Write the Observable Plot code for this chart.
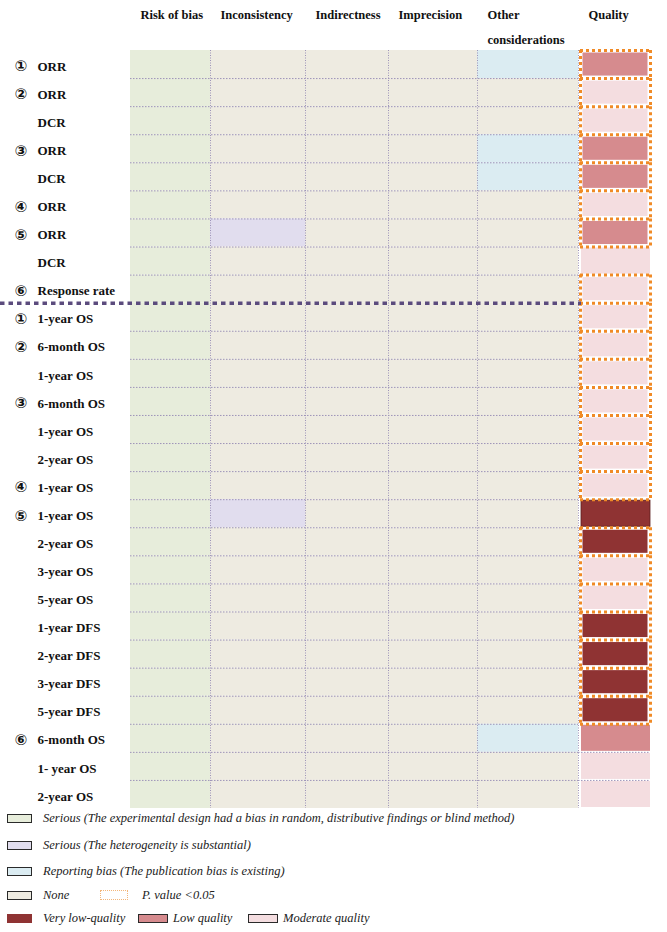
<!DOCTYPE html>
<html><head><meta charset="utf-8">
<script src="https://cdn.jsdelivr.net/npm/d3@7"></script>
<script src="https://cdn.jsdelivr.net/npm/@observablehq/plot@0.6"></script>
<style>
body{margin:0;background:#fff;width:667px;height:932px;position:relative;overflow:hidden}
#chart{position:absolute;left:0;top:0}
#legend{position:absolute;left:0;top:0;width:667px;height:932px;pointer-events:none;font-family:"Liberation Serif","Times New Roman","DejaVu Serif",serif;font-style:italic;font-size:12.5px;color:#222}
.item{position:absolute;height:16px;line-height:16px;white-space:nowrap}
.sw{position:absolute;height:9px;box-sizing:border-box;border:1.3px solid #2a2a2a}
</style></head><body><div id="chart"></div><div id="legend"></div>
<script>
// ---------------- data ----------------
const studies  = ["①","②","","③","","④","⑤","","⑥","①","②","","③","","","④","⑤","","","","","","","","⑥","",""];
const outcomes = ["ORR","ORR","DCR","ORR","DCR","ORR","ORR","DCR","Response rate",
  "1-year OS","6-month OS","1-year OS","6-month OS","1-year OS","2-year OS","1-year OS",
  "1-year OS","2-year OS","3-year OS","5-year OS","1-year DFS","2-year DFS","3-year DFS","5-year DFS",
  "6-month OS","1- year OS","2-year OS"];
const columns = ["Risk of bias","Inconsistency","Indirectness","Imprecision","Other\nconsiderations","Quality"];
// SD = serious (design), SH = serious (heterogeneity), RB = reporting bias, N = none
const riskOfBias    = ["SD","SD","SD","SD","SD","SD","SD","SD","SD","SD","SD","SD","SD","SD","SD","SD","SD","SD","SD","SD","SD","SD","SD","SD","SD","SD","SD"];
const inconsistency = ["N","N","N","N","N","N","SH","N","N","N","N","N","N","N","N","N","SH","N","N","N","N","N","N","N","N","N","N"];
const indirectness  = ["N","N","N","N","N","N","N","N","N","N","N","N","N","N","N","N","N","N","N","N","N","N","N","N","N","N","N"];
const imprecision   = ["N","N","N","N","N","N","N","N","N","N","N","N","N","N","N","N","N","N","N","N","N","N","N","N","N","N","N"];
const otherConsiderations = ["RB","N","N","RB","RB","N","N","N","N","N","N","N","N","N","N","N","N","N","N","N","N","N","N","N","RB","N","N"];
// VL = very low, L = low, M = moderate
const quality = ["L","M","M","L","L","M","L","M","M","M","M","M","M","M","M","M","VL","VL","M","M","VL","VL","VL","VL","L","M","M"];
const pBelow005 = [1,1,1,1,1,1,1,0,1,1,1,1,1,1,1,1,0,1,1,1,1,1,1,1,0,0,0];

const legendCodes  = ["SD","SH","RB","N","VL","L","M"];
const legendLabels = ["Serious (The experimental design had a bias in random, distributive findings or blind method)",
  "Serious (The heterogeneity is substantial)","Reporting bias (The publication bias is existing)","None",
  "Very low-quality","Low quality","Moderate quality"];
const pLabel = "P. value <0.05";

// ---------------- styling / layout ----------------
const palette = {SD:"#e7eddb", SH:"#e1ddee", RB:"#dbecf2", N:"#eeebe1", VL:"#8f3333", L:"#d68b8e", M:"#f4dde0"};
const colWidths = [80, 95, 83, 89, 101, 72];
const edges = [0]; colWidths.forEach(w => edges.push(edges[edges.length-1] + w));
const nRows = outcomes.length;
const qx1 = edges[5], qx2 = edges[6];
const orange = "#f08a26", gridColor = "#9d93b8";
const serif = "'Liberation Serif', 'Times New Roman', 'DejaVu Serif', serif";

const criteria = [riskOfBias, inconsistency, indirectness, imprecision, otherConsiderations];
const cells = [];
criteria.forEach((arr, c) => arr.forEach((code, r) => cells.push({r, c, code})));
const qRows = quality.map((code, r) => ({r, code, p: pBelow005[r]}));
const qDotted = qRows.filter(d => d.p);
const qPlain = qRows.filter(d => !d.p);
const hBounds = d3.range(1, nRows).filter(b => b !== 9);
const orangeBounds = d3.range(0, nRows + 1).filter(b => pBelow005[b-1] || pBelow005[b]);
const orangeSides = qDotted.flatMap(d => [{r: d.r, x: qx1 + 2}, {r: d.r, x: qx2}]);
const study = outcomes.map((o, r) => ({r, s: studies[r], o}));

const chart = Plot.plot({
  width: 667, height: 810,
  marginLeft: 130, marginRight: 17, marginTop: 50, marginBottom: 2,
  x: {domain: [0, edges[6]], axis: null},
  y: {domain: [0, nRows], reverse: true, axis: null},
  color: {domain: Object.keys(palette), range: Object.values(palette)},
  style: {fontFamily: serif, background: "white", overflow: "visible"},
  marks: [
    Plot.rect(cells, {x1: d => edges[d.c], x2: d => edges[d.c+1], y1: d => d.r, y2: d => d.r + 1, fill: "code"}),
    Plot.ruleX(edges.slice(1, 6), {y1: 0, y2: nRows, stroke: gridColor, strokeWidth: 1, strokeDasharray: "1,1.5"}),
    Plot.ruleY(hBounds, {x1: 0, x2: qx1, stroke: gridColor, strokeWidth: 1, strokeDasharray: "1.5,1.5"}),
    // quality cells without significance border
    Plot.rect(qPlain, {x1: qx1, x2: qx2, y1: d => d.r, y2: d => d.r + 1, fill: "code",
      stroke: d => d.code === "VL" ? "#5a1e1e" : "none", strokeWidth: 0.8,
      insetLeft: 3, insetRight: 0, insetTop: 1, insetBottom: 1}),
    Plot.ruleY([25, 26], {x1: qx1, x2: qx2, stroke: gridColor, strokeWidth: 1, strokeDasharray: "1.5,1.5"}),
    // quality cells with P < 0.05 border
    Plot.rect(qDotted, {x1: qx1, x2: qx2, y1: d => d.r, y2: d => d.r + 1, fill: "code",
      insetLeft: 4.5, insetRight: 2.5, insetTop: 2.5, insetBottom: 2.5}),
    Plot.ruleY(orangeBounds, {x1: qx1 + 2, x2: qx2, stroke: orange, strokeWidth: 3, strokeDasharray: "3,3"}),
    Plot.ruleX(orangeSides, {x: "x", y1: d => d.r, y2: d => d.r + 1, stroke: orange, strokeWidth: 3, strokeDasharray: "3,3"}),
    // separator between response outcomes and survival outcomes
    Plot.ruleY([9], {x1: -130, x2: qx1 + 3, stroke: "#5b4b7d", strokeWidth: 3.5, strokeDasharray: "4.5,4"}),
    // headers
    Plot.text(columns, {x: (d, i) => edges[i], frameAnchor: "top", dx: 10, dy: -49, textAnchor: "start",
      lineAnchor: "top", lineHeight: 2, fontWeight: "bold", fontSize: 12.5, fill: "#111"}),
    // row labels
    Plot.text(study, {y: d => d.r + 0.5, text: "s", frameAnchor: "left", dx: -116, dy: 2, textAnchor: "start",
      fontFamily: "DejaVu Sans", fontWeight: "bold", fontSize: 15, fill: "#111"}),
    Plot.text(study, {y: d => d.r + 0.5, text: "o", frameAnchor: "left", dx: -93, dy: 2, textAnchor: "start",
      fontWeight: "bold", fontSize: 13, fill: "#111"})
  ]
});
document.getElementById("chart").appendChild(chart);

// ---------------- legend ----------------
const legend = document.getElementById("legend");
const legendRowsY = [818, 845, 871, 895, 918];
const legendPlacement = [ // [row, swatchLeft, swatchWidth, textLeft]
  [0, 7, 25, 43], [1, 7, 25, 43], [2, 7, 25, 43], [3, 7, 25, 43],
  [4, 7, 25, 43], [4, 138, 30, 173], [4, 248, 30, 283]];
legendCodes.forEach((code, i) => {
  const [row, sx, sw, tx] = legendPlacement[i];
  const y = legendRowsY[row];
  const s = document.createElement("div");
  s.className = "sw";
  s.style.left = sx + "px"; s.style.top = (y - 4.5) + "px"; s.style.width = sw + "px";
  s.style.background = palette[code];
  if (code === "VL") s.style.borderColor = palette.VL;
  legend.appendChild(s);
  const t = document.createElement("div");
  t.className = "item"; t.textContent = legendLabels[i];
  t.style.left = tx + "px"; t.style.top = (y - 8) + "px";
  legend.appendChild(t);
});
{
  const y = legendRowsY[3];
  const s = document.createElement("div");
  s.className = "sw";
  s.style.left = "100px"; s.style.top = (y - 5) + "px"; s.style.width = "28px"; s.style.height = "10px";
  s.style.background = "#fff"; s.style.border = "1px dotted #f3b67a";
  legend.appendChild(s);
  const t = document.createElement("div");
  t.className = "item"; t.textContent = pLabel;
  t.style.left = "142px"; t.style.top = (y - 8) + "px";
  legend.appendChild(t);
}
</script></body></html>
